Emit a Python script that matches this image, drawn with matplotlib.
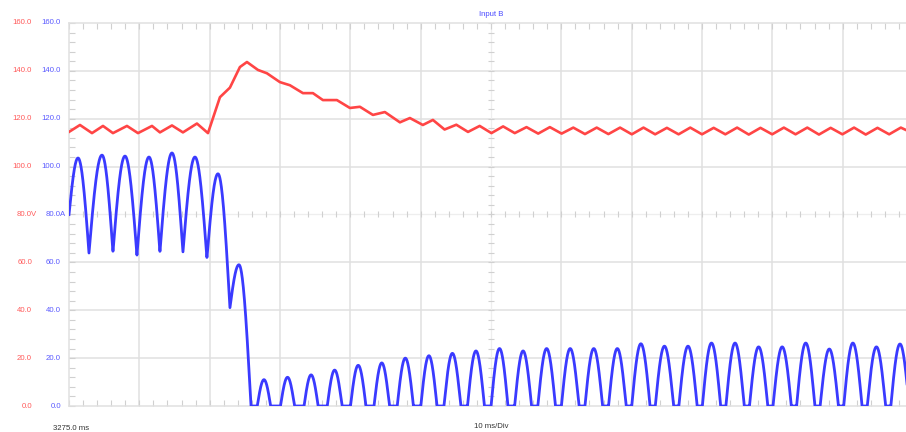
import numpy as np
import matplotlib
matplotlib.use('Agg')
import matplotlib.pyplot as plt
import matplotlib.transforms as mtransforms

# ---------------- data ----------------
T_START = 3275.0          # ms, left edge
MS_PER_DIV = 10.0
N_DIV = 12

yticks = [0, 20, 40, 60, 80, 100, 120, 140, 160]
red_labels = ["0.0", "20.0", "40.0", "60.0", "80.0V", "100.0", "120.0", "140.0", "160.0"]
blue_labels = ["0.0", "20.0", "40.0", "60.0", "80.0A", "100.0", "120.0", "140.0", "160.0"]

# Red trace (voltage): time (ms), value
red_t = [3275.00, 3276.56, 3278.27, 3279.83, 3281.25, 3283.24, 3284.81, 3286.80,
         3287.93, 3289.64, 3291.20, 3293.19, 3294.76, 3296.46, 3297.88, 3299.30,
         3300.30, 3301.86, 3303.14, 3304.99, 3306.41, 3308.26, 3309.68, 3311.10,
         3313.09, 3314.94, 3316.36, 3318.21, 3319.91, 3322.05, 3323.47, 3325.31,
         3326.74, 3328.40, 3330.07, 3331.73, 3333.39, 3335.06, 3336.72, 3338.38,
         3340.05, 3341.71, 3343.37, 3345.04, 3346.70, 3348.36, 3350.03, 3351.69,
         3353.35, 3355.02, 3356.68, 3358.34, 3360.01, 3361.67, 3363.33, 3365.00,
         3366.66, 3368.32, 3369.99, 3371.65, 3373.31, 3374.98, 3376.64, 3378.30,
         3379.97, 3381.63, 3383.29, 3384.96, 3386.62, 3388.28, 3389.95, 3391.61,
         3393.27, 3394.94]
red_v = [114.5, 117.4, 114.0, 117.0, 114.0, 117.0, 114.0, 117.0,
         114.3, 117.2, 114.3, 118.0, 114.0, 129.0, 133.0, 141.6,
         143.7, 140.4, 139.0, 135.3, 134.0, 130.7, 130.7, 127.8,
         127.8, 124.5, 125.0, 121.6, 122.8, 118.5, 120.3, 117.4,
         119.5, 115.5, 117.5, 114.5, 117.0, 114.0, 116.8, 114.0,
         116.5, 113.8, 116.5, 113.8, 116.3, 113.6, 116.3, 113.6,
         116.3, 113.5, 116.3, 113.5, 116.2, 113.5, 116.3, 113.5,
         116.2, 113.5, 116.3, 113.4, 116.2, 113.5, 116.3, 113.5,
         116.3, 113.4, 116.2, 113.5, 116.3, 113.4, 116.2, 113.5,
         116.3, 114.0]

# Blue trace (current), continuous part: alternating extrema (ms, A)
blue_ext_t = [3275.00, 3276.28, 3277.84, 3279.69, 3281.25, 3282.96, 3284.66,
              3286.37, 3287.93, 3289.64, 3291.20, 3292.91, 3294.61, 3296.18,
              3297.88, 3299.16, 3300.87]
blue_ext_v = [80.0, 103.6, 63.9, 104.8, 64.3, 104.4, 63.0,
              104.0, 64.3, 105.7, 64.3, 104.0, 61.8, 97.0,
              41.0, 59.0, 0.0]

# Blue trace, discontinuous part: hump centre (ms), peak (A), base width (ms)
hump_t = [3302.72, 3306.07, 3309.42, 3312.77, 3316.12, 3319.47, 3322.82,
          3326.17, 3329.51, 3332.86, 3336.21, 3339.56, 3342.91, 3346.26,
          3349.61, 3352.96, 3356.31, 3359.66, 3363.01, 3366.35, 3369.70,
          3373.05, 3376.40, 3379.75, 3383.10, 3386.45, 3389.80, 3393.15]
hump_v = [11, 12, 13, 15, 17, 18, 20, 21, 22, 23, 24, 23, 24, 24,
          24, 24, 26, 25, 25, 26.3, 26.3, 24.7, 24.7, 26.3, 23.8, 26.3, 24.7, 25.9]
hump_w = [1.9, 2.0, 2.0, 2.1, 2.2, 2.2, 2.3, 2.3, 2.4, 2.4, 2.4, 2.4, 2.5, 2.5,
          2.5, 2.5, 2.6, 2.6, 2.6, 2.6, 2.6, 2.6, 2.6, 2.6, 2.6, 2.6, 2.6, 2.6]

# ---------------- build blue waveform from the read extrema ----------------
def blue_wave(t):
    v = np.zeros_like(t)
    for i in range(len(blue_ext_t) - 1):
        ta, tb = blue_ext_t[i], blue_ext_t[i + 1]
        va, vb = blue_ext_v[i], blue_ext_v[i + 1]
        m = (t >= ta) & (t <= tb)
        s = (t[m] - ta) / (tb - ta)
        if va < vb:
            v[m] = va + (vb - va) * np.sin(np.pi / 2 * s)
        else:
            v[m] = vb + (va - vb) * np.cos(np.pi / 2 * s)
    for c, p, w in zip(hump_t, hump_v, hump_w):
        m = (t >= c - w / 2) & (t <= c + w / 2)
        v[m] = p * np.sin(np.pi * (t[m] - (c - w / 2)) / w)
    return v

T_END = T_START + MS_PER_DIV * N_DIV
tt = np.linspace(T_START, T_END, 6000)
blue_v = blue_wave(tt)

# ---------------- figure ----------------
W, H = 906, 432
fig = plt.figure(figsize=(W / 100, H / 100), dpi=100)
fig.patch.set_facecolor('white')
ax = fig.add_axes([69 / W, (H - 406) / H, (913 - 69) / W, (406 - 23) / H])
ax.set_xlim(T_START, T_END)
ax.set_ylim(0, 160)
ax.set_facecolor('white')

grid_c = '#e0e0e0'
centre_c = '#eeeeee'
tick_c = '#d0d0d0'
for y in [20, 40, 60, 100, 120, 140]:
    ax.axhline(y, color=grid_c, lw=1.1, zorder=1)
ax.axhline(80, color=centre_c, lw=0.9, zorder=1)
for k in range(1, N_DIV):
    x = T_START + k * MS_PER_DIV
    if k == N_DIV // 2:
        ax.axvline(x, color=centre_c, lw=0.9, zorder=1)
    else:
        ax.axvline(x, color=grid_c, lw=1.1, zorder=1)

# centre cross-hair minor ticks
xc = T_START + MS_PER_DIV * N_DIV / 2
minor_x = np.arange(T_START, T_END + 0.01, MS_PER_DIV / 5)
minor_y = np.arange(0, 160.01, 4)
ax.plot(minor_x, np.full_like(minor_x, 80), ls='none', marker='|', ms=5, mew=0.8,
        color=tick_c, zorder=1)
ax.plot(np.full_like(minor_y, xc), minor_y, ls='none', marker='_', ms=5, mew=0.8,
        color=tick_c, zorder=1)

for sp in ['top', 'bottom', 'left', 'right']:
    ax.spines[sp].set_color(grid_c)
    ax.spines[sp].set_linewidth(1.1)
ax.set_xticks([])
ax.set_yticks([])
ax.set_xticks(minor_x, minor=True)
ax.set_yticks(minor_y, minor=True)
ax.tick_params(which='minor', direction='in', length=4, width=0.8, color=tick_c,
               top=True, bottom=True, left=True, right=False,
               labelbottom=False, labelleft=False)

# traces
ax.plot(red_t, red_v, color='#ff4545', lw=1.9, zorder=3, solid_joinstyle='round')
ax.plot(tt, blue_v, color='#3a3aff', lw=2.0, zorder=4, solid_joinstyle='round')

# labels
font = 'Liberation Sans'
trans = mtransforms.blended_transform_factory(fig.transFigure, ax.transData)
for y, rl, bl in zip(yticks, red_labels, blue_labels):
    if rl.endswith('V'):
        ax.text(17 / W, y, rl, transform=trans, ha='left', va='center', fontsize=5.6,
                color='#ff5a5a', family=font, clip_on=False)
        ax.text(46 / W, y, bl, transform=trans, ha='left', va='center', fontsize=5.6,
                color='#5a5aff', family=font, clip_on=False)
    else:
        ax.text(32 / W, y, rl, transform=trans, ha='right', va='center', fontsize=5.6,
                color='#ff5a5a', family=font, clip_on=False)
        ax.text(61 / W, y, bl, transform=trans, ha='right', va='center', fontsize=5.6,
                color='#5a5aff', family=font, clip_on=False)

fig.text(491 / W, 1 - 14 / H, 'Input B', ha='center', va='center', fontsize=5.6,
         color='#4a4aff', family=font)
fig.text(53 / W, 1 - 428 / H, '3275.0 ms', ha='left', va='center', fontsize=5.6,
         color='#333333', family=font)
fig.text(491 / W, 1 - 427 / H, '10 ms/Div', ha='center', va='center', fontsize=5.6,
         color='#333333', family=font)

fig.savefig('out.png', dpi=100)
